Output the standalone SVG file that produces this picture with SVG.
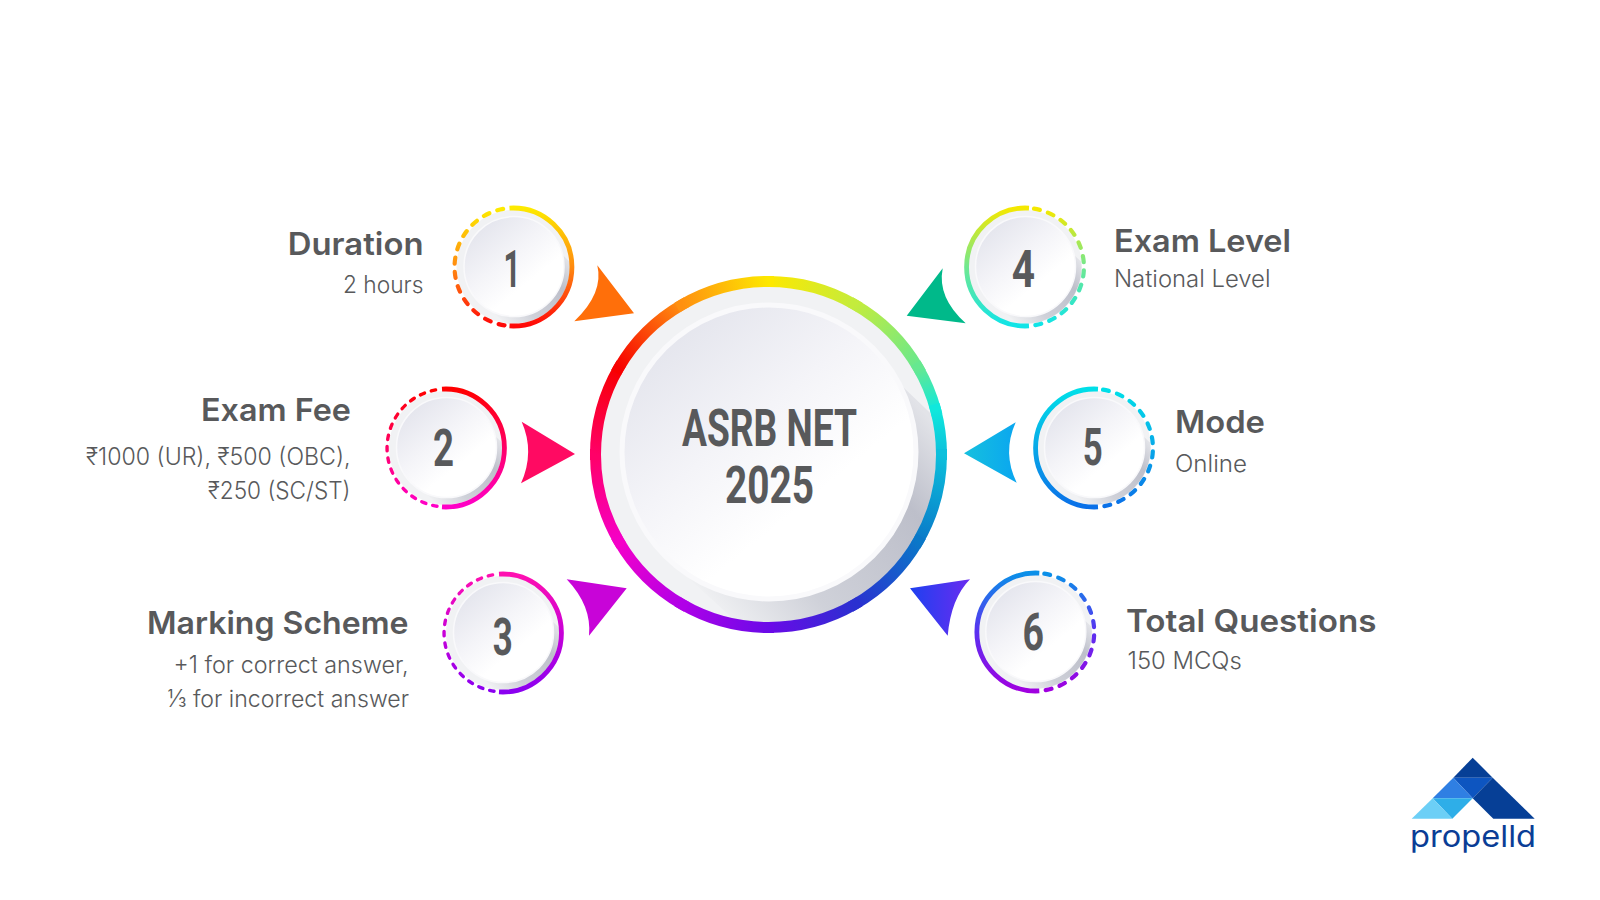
<svg xmlns="http://www.w3.org/2000/svg" width="1600" height="900" viewBox="0 0 1600 900">
<style>
text{font-family:Inter,"Noto Sans","Liberation Sans",sans-serif}
.t{font-size:31.5px;font-weight:600;fill:#58595b}
.s{font-size:23.5px;font-weight:300;fill:#58595b}
.c{font-family:Roboto,"Liberation Sans",sans-serif;font-size:51px;font-weight:700;fill:#58595b}
.solid{fill:none;stroke-width:4.8}
.dash{fill:none;stroke-width:4.2;stroke-linecap:round;stroke-dasharray:6 8.5}
.thin{stroke-width:3.4;stroke-dasharray:4.5 7}
.seg{fill:none;stroke-width:11;stroke-linecap:square}
</style>
<defs>
<linearGradient id="face" x1="0.15" y1="0.1" x2="0.8" y2="0.9"><stop offset="0" stop-color="#e4e5ed"/><stop offset="0.4" stop-color="#f4f4f8"/><stop offset="0.72" stop-color="#ffffff"/></linearGradient>
<linearGradient id="shade" gradientUnits="userSpaceOnUse" x1="-20" y1="46" x2="46" y2="-15"><stop offset="0" stop-color="#f0f1f3"/><stop offset="0.3" stop-color="#cfd1d9"/><stop offset="0.75" stop-color="#bdbfca"/><stop offset="1" stop-color="#e2e3e8"/></linearGradient>
<clipPath id="plateClip"><circle r="56.5"/></clipPath>
<clipPath id="hubClip"><circle cx="768.5" cy="454.5" r="168"/></clipPath>
<g id="button">
<circle r="57" fill="#f1f2f4"/>
<path d="M46,-15 L72,10 L10,72 L-20,46 Z" fill="url(#shade)" clip-path="url(#plateClip)"/>
<circle cx="0.5" cy="-0.5" r="50" fill="url(#face)" stroke="#f9f9fb" stroke-width="1.5"/>
</g>
<linearGradient id="g1" x1="0" y1="0" x2="0" y2="1"><stop offset="0" stop-color="#fdea00"/><stop offset="0.5" stop-color="#ff8a10"/><stop offset="1" stop-color="#ff0808"/></linearGradient>
<linearGradient id="g2" x1="0" y1="0" x2="0" y2="1"><stop offset="0" stop-color="#ff0000"/><stop offset="0.5" stop-color="#ff0068"/><stop offset="1" stop-color="#ff00c8"/></linearGradient>
<linearGradient id="g3" x1="0" y1="0" x2="0" y2="1"><stop offset="0" stop-color="#ff10b0"/><stop offset="0.5" stop-color="#c800d8"/><stop offset="1" stop-color="#8a00f0"/></linearGradient>
<linearGradient id="g4" x1="0" y1="0" x2="0" y2="1"><stop offset="0" stop-color="#f5e800"/><stop offset="0.5" stop-color="#70e890"/><stop offset="1" stop-color="#10e4e8"/></linearGradient>
<linearGradient id="g5" x1="0" y1="0" x2="0" y2="1"><stop offset="0" stop-color="#00dfe8"/><stop offset="0.5" stop-color="#08a8e8"/><stop offset="1" stop-color="#0a70e8"/></linearGradient>
<linearGradient id="g6" x1="0" y1="0" x2="0" y2="1"><stop offset="0" stop-color="#0a90e8"/><stop offset="0.5" stop-color="#5a30f0"/><stop offset="1" stop-color="#a000e0"/></linearGradient>
<linearGradient id="a5" x1="0" y1="0" x2="1" y2="0"><stop offset="0" stop-color="#16c0de"/><stop offset="1" stop-color="#0aa6f0"/></linearGradient>
<linearGradient id="a6" x1="0" y1="0" x2="1" y2="0"><stop offset="0" stop-color="#1e40f0"/><stop offset="1" stop-color="#6a2cf0"/></linearGradient>
<linearGradient id="r0" gradientUnits="userSpaceOnUse" x1="768.5" y1="281.5" x2="855" y2="304.7"><stop offset="0" stop-color="#fde800"/><stop offset="1" stop-color="#c4ec3c"/></linearGradient>
<linearGradient id="r1" gradientUnits="userSpaceOnUse" x1="855" y1="304.7" x2="918.3" y2="368"><stop offset="0" stop-color="#c4ec3c"/><stop offset="1" stop-color="#66e890"/></linearGradient>
<linearGradient id="r2" gradientUnits="userSpaceOnUse" x1="918.3" y1="368" x2="935.6" y2="409.7"><stop offset="0" stop-color="#66e890"/><stop offset="1" stop-color="#10e8dc"/></linearGradient>
<linearGradient id="r3" gradientUnits="userSpaceOnUse" x1="935.6" y1="409.7" x2="941.5" y2="454.5"><stop offset="0" stop-color="#10e8dc"/><stop offset="1" stop-color="#0cc0dc"/></linearGradient>
<linearGradient id="r4" gradientUnits="userSpaceOnUse" x1="941.5" y1="454.5" x2="918.3" y2="541"><stop offset="0" stop-color="#0cc0dc"/><stop offset="1" stop-color="#0a78c8"/></linearGradient>
<linearGradient id="r5" gradientUnits="userSpaceOnUse" x1="918.3" y1="541" x2="855" y2="604.3"><stop offset="0" stop-color="#0a78c8"/><stop offset="1" stop-color="#2a30d0"/></linearGradient>
<linearGradient id="r6" gradientUnits="userSpaceOnUse" x1="855" y1="604.3" x2="768.5" y2="627.5"><stop offset="0" stop-color="#2a30d0"/><stop offset="1" stop-color="#6a0ae8"/></linearGradient>
<linearGradient id="r7" gradientUnits="userSpaceOnUse" x1="768.5" y1="627.5" x2="682" y2="604.3"><stop offset="0" stop-color="#6a0ae8"/><stop offset="1" stop-color="#b000e8"/></linearGradient>
<linearGradient id="r8" gradientUnits="userSpaceOnUse" x1="682" y1="604.3" x2="618.7" y2="541"><stop offset="0" stop-color="#b000e8"/><stop offset="1" stop-color="#f500c8"/></linearGradient>
<linearGradient id="r9" gradientUnits="userSpaceOnUse" x1="618.7" y1="541" x2="595.5" y2="454.5"><stop offset="0" stop-color="#f500c8"/><stop offset="1" stop-color="#ff0068"/></linearGradient>
<linearGradient id="r10" gradientUnits="userSpaceOnUse" x1="595.5" y1="454.5" x2="618.7" y2="368"><stop offset="0" stop-color="#ff0068"/><stop offset="1" stop-color="#f70000"/></linearGradient>
<linearGradient id="r11" gradientUnits="userSpaceOnUse" x1="618.7" y1="368" x2="682" y2="304.7"><stop offset="0" stop-color="#f70000"/><stop offset="1" stop-color="#ff9010"/></linearGradient>
<linearGradient id="r12" gradientUnits="userSpaceOnUse" x1="682" y1="304.7" x2="768.5" y2="281.5"><stop offset="0" stop-color="#ff9010"/><stop offset="1" stop-color="#fde800"/></linearGradient>
<linearGradient id="hubShade" gradientUnits="userSpaceOnUse" x1="683" y1="573" x2="903" y2="387"><stop offset="0" stop-color="#f0f1f3"/><stop offset="0.3" stop-color="#cfd1d9"/><stop offset="0.75" stop-color="#bdbfca"/><stop offset="1" stop-color="#e2e3e8"/></linearGradient>
</defs>
<rect width="1600" height="900" fill="#ffffff"/>
<g id="connectors">
<path d="M597.3,265.3 L634,313.3 L574.3,321.3 Q604,293 597.3,265.3 Z" fill="#ff6f0a"/>
<path d="M521.7,421.7 L575,454 L521,483.3 Q535,452 521.7,421.7 Z" fill="#ff0a62"/>
<path d="M566.7,579.3 L626.7,588.3 L589,635.7 Q592,606 566.7,579.3 Z" fill="#c804d8"/>
<path d="M942.7,268.3 L906.7,315.7 L965.7,323.3 Q937,297.6 942.7,268.3 Z" fill="#00b98a"/>
<path d="M1015.7,422.3 L964,453.3 L1016.7,482.7 Q1002,453 1015.7,422.3 Z" fill="url(#a5)"/>
<path d="M910,588.3 L970,579.3 Q951,598.5 947.7,635.7 Z" fill="url(#a6)"/>
</g>
<g id="hub">
<circle cx="768.5" cy="454.5" r="168" fill="#f1f2f4"/>
<path d="M903,387 L1000,480 L800,680 L683,573 Z" fill="url(#hubShade)" clip-path="url(#hubClip)"/>
<g class="ring">
<path class="seg" stroke="url(#r0)" d="M768.5,281.5 A173,173 0 0 1 855,304.7"/>
<path class="seg" stroke="url(#r1)" d="M855,304.7 A173,173 0 0 1 918.3,368"/>
<path class="seg" stroke="url(#r2)" d="M918.3,368 A173,173 0 0 1 935.6,409.7"/>
<path class="seg" stroke="url(#r3)" d="M935.6,409.7 A173,173 0 0 1 941.5,454.5"/>
<path class="seg" stroke="url(#r4)" d="M941.5,454.5 A173,173 0 0 1 918.3,541"/>
<path class="seg" stroke="url(#r5)" d="M918.3,541 A173,173 0 0 1 855,604.3"/>
<path class="seg" stroke="url(#r6)" d="M855,604.3 A173,173 0 0 1 768.5,627.5"/>
<path class="seg" stroke="url(#r7)" d="M768.5,627.5 A173,173 0 0 1 682,604.3"/>
<path class="seg" stroke="url(#r8)" d="M682,604.3 A173,173 0 0 1 618.7,541"/>
<path class="seg" stroke="url(#r9)" d="M618.7,541 A173,173 0 0 1 595.5,454.5"/>
<path class="seg" stroke="url(#r10)" d="M595.5,454.5 A173,173 0 0 1 618.7,368"/>
<path class="seg" stroke="url(#r11)" d="M618.7,368 A173,173 0 0 1 682,304.7"/>
<path class="seg" stroke="url(#r12)" d="M682,304.7 A173,173 0 0 1 768.5,281.5"/>
</g>
<circle cx="769" cy="452" r="147" fill="url(#face)" stroke="#f9f9fb" stroke-width="5"/>
<text class="c" x="682" y="446" textLength="175" lengthAdjust="spacingAndGlyphs">ASRB NET</text>
<text class="c" x="725" y="503" textLength="89" lengthAdjust="spacingAndGlyphs">2025</text>
</g>
<g id="node-1">
<g transform="translate(513.5,267)"><use href="#button"/><path class="solid" stroke="url(#g1)" d="M-4,-58.9 A59,59 0 1 1 -4,58.9"/><path class="dash" stroke="url(#g1)" d="M-9,58.3 A59,59 0 0 1 -9,-58.3"/></g>
<text class="c" x="503.5" y="287.3" textLength="17" lengthAdjust="spacingAndGlyphs">1</text>
<text class="t" x="287.8" y="255" textLength="135.7" lengthAdjust="spacingAndGlyphs">Duration</text>
<text class="s" x="342.9" y="292.9" textLength="80.6" lengthAdjust="spacingAndGlyphs">2 hours</text>
</g>
<g id="node-2">
<g transform="translate(446,448)"><use href="#button"/><path class="solid" stroke="url(#g2)" d="M-4,-58.9 A59,59 0 1 1 -4,58.9"/><path class="dash thin" stroke="url(#g2)" d="M-9,58.3 A59,59 0 0 1 -9,-58.3"/></g>
<text class="c" x="433" y="465.5" textLength="21" lengthAdjust="spacingAndGlyphs">2</text>
<text class="t" x="201" y="421" textLength="150" lengthAdjust="spacingAndGlyphs">Exam Fee</text>
<text class="s" x="86" y="464.7" textLength="264.5" lengthAdjust="spacingAndGlyphs">₹1000 (UR), ₹500 (OBC),</text>
<text class="s" x="208" y="499" textLength="142.5" lengthAdjust="spacingAndGlyphs">₹250 (SC/ST)</text>
</g>
<g id="node-3">
<g transform="translate(503,633)"><use href="#button"/><path class="solid" stroke="url(#g3)" d="M-4,-58.9 A59,59 0 1 1 -4,58.9"/><path class="dash thin" stroke="url(#g3)" d="M-9,58.3 A59,59 0 0 1 -9,-58.3"/></g>
<text class="c" x="492.7" y="654.5" textLength="20" lengthAdjust="spacingAndGlyphs">3</text>
<text class="t" x="147" y="633.5" textLength="261.5" lengthAdjust="spacingAndGlyphs">Marking Scheme</text>
<text class="s" x="173.5" y="672.5" textLength="235" lengthAdjust="spacingAndGlyphs">+1 for correct answer,</text>
<text class="s" x="167.5" y="707" textLength="241.5" lengthAdjust="spacingAndGlyphs">⅓ for incorrect answer</text>
</g>
<g id="node-4">
<g transform="translate(1025,267)"><use href="#button"/><path class="solid" stroke="url(#g4)" d="M4,-58.9 A59,59 0 1 0 4,58.9"/><path class="dash" stroke="url(#g4)" d="M9,-58.3 A59,59 0 0 1 9,58.3"/></g>
<text class="c" x="1011.7" y="287.3" textLength="23.3" lengthAdjust="spacingAndGlyphs">4</text>
<text class="t" x="1114" y="251.8" textLength="177" lengthAdjust="spacingAndGlyphs">Exam Level</text>
<text class="s" x="1114" y="286.5" textLength="156.5" lengthAdjust="spacingAndGlyphs">National Level</text>
</g>
<g id="node-5">
<g transform="translate(1094,448)"><use href="#button"/><path class="solid" stroke="url(#g5)" d="M4,-58.9 A59,59 0 1 0 4,58.9"/><path class="dash" stroke="url(#g5)" d="M9,-58.3 A59,59 0 0 1 9,58.3"/></g>
<text class="c" x="1082.7" y="465" textLength="20" lengthAdjust="spacingAndGlyphs">5</text>
<text class="t" x="1175" y="433" textLength="90" lengthAdjust="spacingAndGlyphs">Mode</text>
<text class="s" x="1175" y="471.8" textLength="72" lengthAdjust="spacingAndGlyphs">Online</text>
</g>
<g id="node-6">
<g transform="translate(1035.3,632)"><use href="#button"/><path class="solid" stroke="url(#g6)" d="M4,-58.9 A59,59 0 1 0 4,58.9"/><path class="dash" stroke="url(#g6)" d="M9,-58.3 A59,59 0 0 1 9,58.3"/></g>
<text class="c" x="1022.5" y="650" textLength="21.5" lengthAdjust="spacingAndGlyphs">6</text>
<text class="t" x="1126" y="631.6" textLength="250.5" lengthAdjust="spacingAndGlyphs">Total Questions</text>
<text class="s" x="1127.5" y="669.4" textLength="114.3" lengthAdjust="spacingAndGlyphs">150 MCQs</text>
</g>
<g id="logo">
<polygon points="1472.7,757.7 1453.3,777.7 1492.7,777.7" fill="#063f96"/>
<polygon points="1453.3,777.7 1492.7,777.7 1472.7,798.3" fill="#0d55c0"/>
<polygon points="1432.7,798.3 1453.3,777.7 1472.7,798.3" fill="#2f7fe3"/>
<polygon points="1432.7,798.3 1472.7,798.3 1452.3,818.7" fill="#2eaee8"/>
<polygon points="1411.7,818.7 1432.7,798.3 1452.3,818.7" fill="#6ccff6"/>
<polygon points="1492.7,777.7 1472.7,798.3 1493.3,818.7 1534.7,818.7" fill="#063f96"/>
<text x="1410" y="847.3" font-size="30" font-weight="400" fill="#0a3d96" textLength="126" lengthAdjust="spacingAndGlyphs">propelld</text>
</g>
</svg>
